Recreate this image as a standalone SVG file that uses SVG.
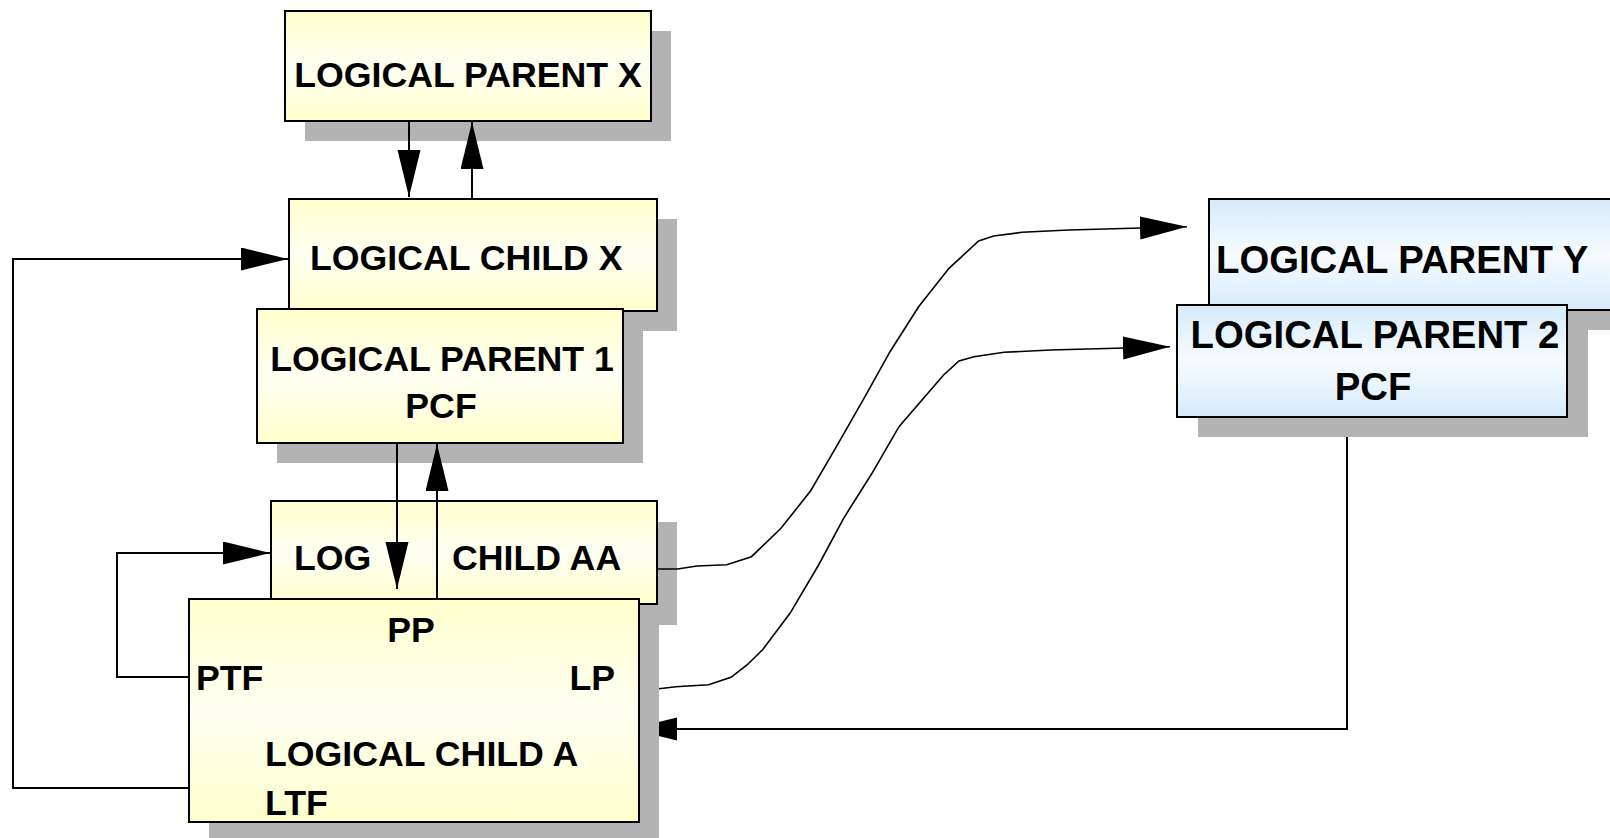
<svg xmlns="http://www.w3.org/2000/svg" width="1610" height="838" viewBox="0 0 1610 838">
<defs>
<linearGradient id="gy" x1="0" y1="0" x2="0" y2="1">
<stop offset="0" stop-color="#ffffcc"/>
<stop offset="0.5" stop-color="#fffff3"/>
<stop offset="1" stop-color="#ffffcc"/>
</linearGradient>
<linearGradient id="gb" x1="0" y1="0" x2="0" y2="1">
<stop offset="0" stop-color="#d6ebfb"/>
<stop offset="0.5" stop-color="#f6fbff"/>
<stop offset="1" stop-color="#d6ebfb"/>
</linearGradient>
<marker id="ah" markerUnits="userSpaceOnUse" markerWidth="48" markerHeight="24" refX="47" refY="11.5" orient="auto">
<path d="M0,0 L47,11.5 L0,23 z" fill="#000"/>
</marker>
</defs>
<style>
.sh{fill:#b3b3b3;stroke:none}
.by{fill:url(#gy);stroke:#000;stroke-width:2}
.bb{fill:url(#gb);stroke:#000;stroke-width:2}
.t{font-family:"Liberation Sans",Arial,sans-serif;font-weight:bold;font-size:35.7px;fill:#000}
.tb{font-family:"Liberation Sans",Arial,sans-serif;font-weight:bold;font-size:38.3px;fill:#000}
.c{text-anchor:middle}
.ln{fill:none;stroke:#000;stroke-width:2}
.cv{fill:none;stroke:#000;stroke-width:1.6}
</style>
<rect width="1610" height="838" fill="#fff"/>

<g id="logical-parent-x">
<rect class="sh" x="305" y="31" width="366" height="110"/>
<rect class="by" x="285" y="11" width="366" height="110"/>
<text class="t c" x="468" y="87">LOGICAL PARENT X</text>
</g>

<g id="logical-child-x">
<rect class="sh" x="309" y="219" width="368" height="112"/>
<rect class="by" x="289" y="199" width="368" height="112"/>
<text class="t" x="310" y="270">LOGICAL CHILD X</text>
</g>

<g id="logical-parent-1">
<rect class="sh" x="277" y="329" width="366" height="134"/>
<rect class="by" x="257" y="309" width="366" height="134"/>
<text class="t c" x="442" y="371">LOGICAL PARENT 1</text>
<text class="t c" x="441" y="418">PCF</text>
</g>

<g id="log-child-aa">
<rect class="sh" x="291" y="522" width="386" height="103"/>
<rect class="by" x="271" y="501" width="386" height="103"/>
<text class="t" x="294" y="570">LOG</text>
<text class="t" x="452" y="570">CHILD AA</text>
</g>

<g id="logical-parent-y">
<rect class="sh" x="1229" y="219" width="420" height="111"/>
<rect class="bb" x="1209" y="199" width="420" height="111"/>
<text class="tb" x="1216" y="273">LOGICAL PARENT Y</text>
</g>

<g id="logical-parent-2">
<rect class="sh" x="1198" y="325" width="390" height="112"/>
<rect class="bb" x="1177" y="305" width="390" height="112"/>
<text class="tb c" x="1375" y="348">LOGICAL PARENT 2</text>
<text class="tb c" x="1373" y="400">PCF</text>
</g>

<g id="connectors">
<line class="ln" x1="409" y1="121" x2="409" y2="197" marker-end="url(#ah)"/>
<line class="ln" x1="472" y1="199" x2="472" y2="122" marker-end="url(#ah)"/>
<line class="ln" x1="397" y1="443" x2="397" y2="589" marker-end="url(#ah)"/>
<line class="ln" x1="437" y1="599" x2="437" y2="444" marker-end="url(#ah)"/>
<polyline class="ln" points="189,677 117,677 117,553 270,553" marker-end="url(#ah)"/>
<polyline class="ln" points="189,788 13,788 13,259 288,259" marker-end="url(#ah)"/>
<polyline class="cv" points="657,569 677.5,569 697,566 726.8,564.7 751.4,556.7 781,528.3 810.7,490.7 836.4,446.7 865,396.7 890,351.7 918.6,306.7 949,268.3 978.6,241 993.6,236 1022,232.3 1068.6,230 1187,226.7" marker-end="url(#ah)"/>
<polyline class="cv" points="657,689 675.7,686.7 708.6,684.7 731,677.3 747,665 763,649.3 790,613.3 818.6,565 843.6,518.3 872,473.3 899,426.7 922,400 943.6,375 959,361 974,356.7 1004,352.3 1050.7,350 1170,346.7" marker-end="url(#ah)"/>
<polyline class="ln" points="1347,437 1347,729 630,729" marker-end="url(#ah)"/>
</g>

<g id="logical-child-a">
<rect class="sh" x="209" y="619" width="450" height="223"/>
<rect class="by" x="189" y="599" width="450" height="223"/>
<text class="t c" x="411" y="642">PP</text>
<text class="t" x="196" y="690">PTF</text>
<text class="t" x="615" y="690" text-anchor="end">LP</text>
<text class="t" x="265" y="766">LOGICAL CHILD A</text>
<text class="t" x="265" y="815">LTF</text>
</g>
</svg>
